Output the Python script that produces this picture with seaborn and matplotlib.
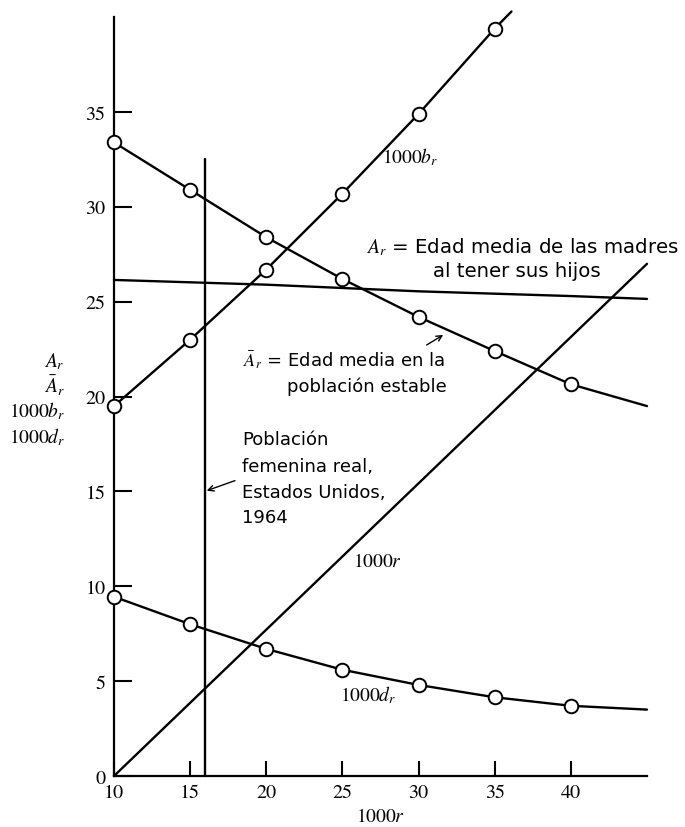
import matplotlib
matplotlib.use("Agg")
import matplotlib.pyplot as plt
import seaborn as sns
import pandas as pd

# Values of the stable-population quantities against 1000r
r_points = [10, 15, 20, 25, 30, 35, 40]
b_rate = [19.5, 23.0, 26.7, 30.7, 34.9, 39.4]          # 1000 b_r (r = 10..35)
d_rate = [9.45, 8.0, 6.7, 5.6, 4.8, 4.15, 3.7]          # 1000 d_r
mean_age_stable = [33.4, 30.9, 28.4, 26.2, 24.2, 22.4, 20.65]  # A-bar_r

# Where each curve is carried on past its last plotted point
b_end = (36.1, 40.3)
d_end = (45.0, 3.5)
abar_end = (45.0, 19.5)

# A_r: mean age of mothers at childbearing (no plotted points)
ar_x = [10, 20, 30, 40, 45]
ar_y = [26.15, 25.9, 25.55, 25.3, 25.15]

# 1000r reference line
r_line_x = [10, 45]
r_line_y = [0.0, 27.0]

# Actual US female population, 1964
us_1964_r = 16.0
us_1964_top = 32.5

x_ticks = [10, 15, 20, 25, 30, 35, 40]
y_ticks = [0, 5, 10, 15, 20, 25, 30, 35]

sns.set_style("ticks")
plt.rcParams["font.family"] = ["STIXGeneral", "DejaVu Serif"]
plt.rcParams["mathtext.fontset"] = "stix"
plt.rcParams["text.color"] = "black"
plt.rcParams["axes.labelcolor"] = "black"

fig = plt.figure(figsize=(6.85, 8.28), dpi=100)
ax = fig.add_axes([114 / 685, 51 / 828, (647 - 114) / 685, (777 - 18.2) / 828])

LW = 1.7
line_kw = dict(color="black", linewidth=LW, ax=ax, legend=False)

def curve(xs, ys):
    df = pd.DataFrame({"x": xs, "y": ys})
    sns.lineplot(data=df, x="x", y="y", sort=False, estimator=None, **line_kw)

curve(r_points[:len(b_rate)] + [b_end[0]], b_rate + [b_end[1]])
curve(r_points + [d_end[0]], d_rate + [d_end[1]])
curve(r_points + [abar_end[0]], mean_age_stable + [abar_end[1]])
curve(ar_x, ar_y)
curve(r_line_x, r_line_y)
curve([us_1964_r, us_1964_r], [0, us_1964_top])

for xs, ys in [(r_points[:len(b_rate)], b_rate),
               (r_points, d_rate),
               (r_points, mean_age_stable)]:
    sns.scatterplot(x=xs, y=ys, ax=ax, s=95, facecolor="white",
                    edgecolor="black", linewidth=1.4, zorder=5, clip_on=False)

for ln in ax.lines:
    ln.set_clip_on(False)

ax.set_xlim(10, 45)
ax.set_ylim(0, 40)
ax.set_xticks(x_ticks)
ax.set_yticks(y_ticks)
ax.set_xticklabels([str(v) for v in x_ticks])
ax.set_yticklabels([str(v) for v in y_ticks])
ax.tick_params(axis="both", direction="in", width=1.5, labelsize=14.5, pad=6,
               colors="black")
ax.tick_params(axis="y", length=13)
ax.tick_params(axis="x", length=11)
for side in ["top", "right"]:
    ax.spines[side].set_visible(False)
for side in ["left", "bottom"]:
    ax.spines[side].set_linewidth(1.6)
    ax.spines[side].set_color("black")

ax.set_xlabel("$1000r$", fontsize=14, labelpad=4, color="black")
ax.set_ylabel("")

# Stacked y-axis label
for txt, yy in [(r"$A_r$", 21.88), (r"$\bar{A}_r$", 20.61),
                (r"$1000b_r$", 19.29), (r"$1000d_r$", 17.92)]:
    ax.text(6.78, yy, txt, ha="right", va="center", fontsize=14,
            color="black", clip_on=False)

# Curve labels
ax.text(27.58, 32.7, r"$1000b_r$", ha="left", va="center", fontsize=14, color="black")
ax.text(24.84, 4.32, r"$1000d_r$", ha="left", va="center", fontsize=14, color="black")
ax.text(25.69, 11.33, r"$1000r$", ha="left", va="center", fontsize=14, color="black")

sans = dict(family=["DejaVu Sans"], fontsize=13, va="center", ha="left",
            color="black")
sans_big = dict(sans, fontsize=14.2)
ax.text(26.55, 27.94, r"$A_r$ = Edad media de las madres", **sans_big)
ax.text(30.95, 26.67, "al tener sus hijos", **sans_big)
ax.text(18.47, 21.98, r"$\bar{A}_r$ = Edad media en la", **sans)
ax.text(21.36, 20.56, "población estable", **sans)
for txt, yy in [("Población", 17.76), ("femenina real,", 16.34),
                ("Estados Unidos,", 14.97), ("1964", 13.65)]:
    ax.text(18.4, yy, txt, **sans)

arrow = dict(arrowstyle="->", color="black", lw=1.0, shrinkA=0, shrinkB=0)
ax.annotate("", xy=(16.09, 15.04), xytext=(17.94, 15.57), arrowprops=arrow)
ax.annotate("", xy=(31.62, 23.25), xytext=(30.53, 22.72), arrowprops=arrow)

fig.savefig("out.png", dpi=100, facecolor="white")
